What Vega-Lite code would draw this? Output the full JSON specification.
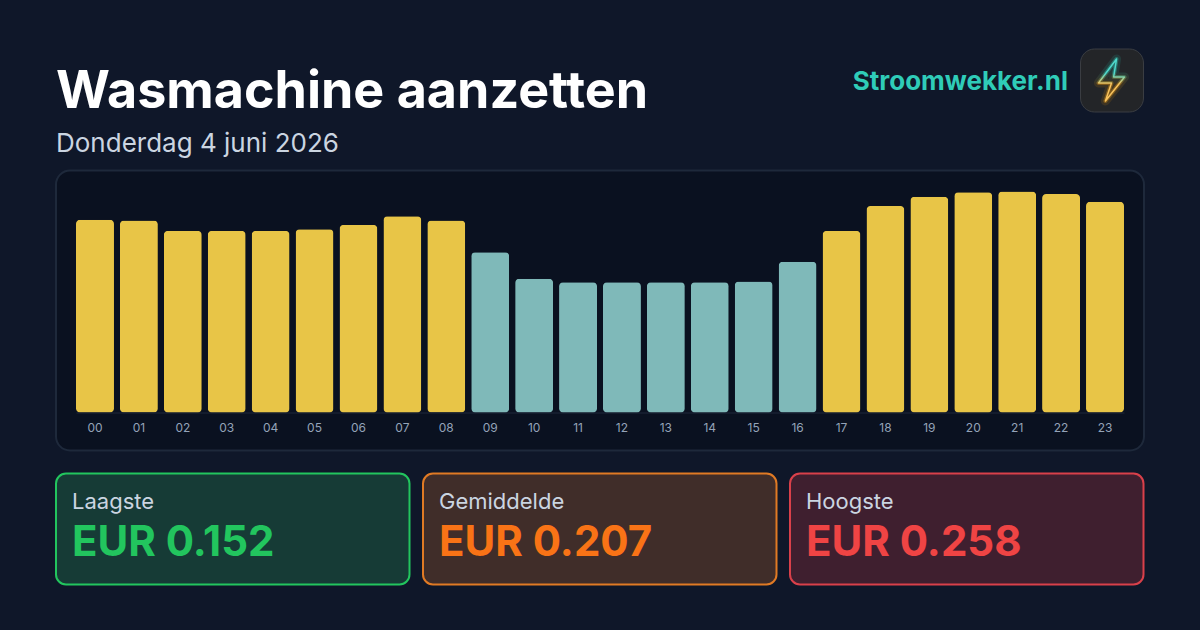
{
"$schema":"https://vega.github.io/schema/vega-lite/v6.json",
"background":"#0f1729",
"padding":{"left":55,"top":47.5,"right":54.5,"bottom":45},
"spacing":0,
"config":{"font":"Inter","view":{"stroke":null}},
"datasets":{
"kop":[{"titel":"Wasmachine aanzetten","datum":"Donderdag 4 juni 2026","merk":"Stroomwekker.nl"}],
"uren":[
{"uur":"00","prijs":0.225,"niveau":"duur"},{"uur":"01","prijs":0.224,"niveau":"duur"},{"uur":"02","prijs":0.212,"niveau":"duur"},{"uur":"03","prijs":0.212,"niveau":"duur"},{"uur":"04","prijs":0.212,"niveau":"duur"},{"uur":"05","prijs":0.214,"niveau":"duur"},{"uur":"06","prijs":0.219,"niveau":"duur"},{"uur":"07","prijs":0.229,"niveau":"duur"},{"uur":"08","prijs":0.224,"niveau":"duur"},{"uur":"09","prijs":0.187,"niveau":"goedkoop"},{"uur":"10","prijs":0.156,"niveau":"goedkoop"},{"uur":"11","prijs":0.152,"niveau":"goedkoop"},{"uur":"12","prijs":0.152,"niveau":"goedkoop"},{"uur":"13","prijs":0.152,"niveau":"goedkoop"},{"uur":"14","prijs":0.152,"niveau":"goedkoop"},{"uur":"15","prijs":0.153,"niveau":"goedkoop"},{"uur":"16","prijs":0.176,"niveau":"goedkoop"},{"uur":"17","prijs":0.212,"niveau":"duur"},{"uur":"18","prijs":0.241,"niveau":"duur"},{"uur":"19","prijs":0.252,"niveau":"duur"},{"uur":"20","prijs":0.257,"niveau":"duur"},{"uur":"21","prijs":0.258,"niveau":"duur"},{"uur":"22","prijs":0.255,"niveau":"duur"},{"uur":"23","prijs":0.246,"niveau":"duur"}]
},
"vconcat":[
{"hconcat":[
 {"width":1023,"height":121,"data":{"name":"kop"},"layer":[
  {"mark":{"type":"text","align":"left","baseline":"alphabetic","fontSize":52,"fontWeight":700,"color":"#ffffff","x":0,"y":59},"encoding":{"text":{"field":"titel"}}},
  {"mark":{"type":"text","align":"left","baseline":"alphabetic","fontSize":26,"fontWeight":400,"color":"#cbd5e1","x":0,"y":103},"encoding":{"text":{"field":"datum"}}},
  {"mark":{"type":"text","align":"right","baseline":"alphabetic","fontSize":26,"fontWeight":700,"color":"#2fccb8","x":1012,"y":41},"encoding":{"text":{"field":"merk"}}}
 ]},
 {"width":63,"height":63,"data":{"name":"kop"},"view":{"fill":"#232528","stroke":"#3a3d42","strokeWidth":1,"cornerRadius":14},"layer":[
  {"mark":{"type":"point","shape":"M0.24,-1L-0.62,0.14L0,0.14L-0.29,1L0.62,-0.14L0.1,-0.14Z","size":1764,"filled":false,"strokeJoin":"round","strokeWidth":9,"opacity":0.12,"stroke":{"gradient":"linear","x1":0,"y1":0,"x2":0,"y2":1,"stops":[{"offset":0.3,"color":"#2dd4bf"},{"offset":0.6,"color":"#f59e0b"}]}},"encoding":{}},
  {"mark":{"type":"point","shape":"M0.24,-1L-0.62,0.14L0,0.14L-0.29,1L0.62,-0.14L0.1,-0.14Z","size":1764,"filled":false,"strokeJoin":"round","strokeWidth":4,"opacity":0.35,"stroke":{"gradient":"linear","x1":0,"y1":0,"x2":0,"y2":1,"stops":[{"offset":0.3,"color":"#2dd4bf"},{"offset":0.6,"color":"#f59e0b"}]}},"encoding":{}},
  {"mark":{"type":"point","shape":"M0.24,-1L-0.62,0.14L0,0.14L-0.29,1L0.62,-0.14L0.1,-0.14Z","size":1764,"filled":false,"strokeJoin":"round","strokeWidth":1.5,"opacity":1,"stroke":{"gradient":"linear","x1":0,"y1":0,"x2":0,"y2":1,"stops":[{"offset":0.35,"color":"#4fd8cc"},{"offset":0.6,"color":"#f8c25c"}]}},"encoding":{}}
 ]}
],"spacing":0},
{"vconcat":[
{"width":1088,"height":280,"data":{"name":"uren"},"view":{"fill":"#0a1120","stroke":"#1e293b","strokeWidth":2,"cornerRadius":14},
 "mark":{"type":"bar","cornerRadius":4},
 "encoding":{
  "x":{"field":"uur","type":"ordinal","sort":null,"scale":{"range":[20,1068],"paddingInner":0.135,"paddingOuter":0},"axis":{"title":null,"labelAngle":0,"ticks":false,"offset":-38,"labelPadding":10,"labelFontSize":12,"labelColor":"#94a3b8","domainColor":"#1e293b","domainWidth":1,"grid":false}},
  "y":{"field":"prijs","type":"quantitative","scale":{"domain":[0,0.2825],"range":[242,0],"nice":false},"axis":null},
  "color":{"field":"niveau","type":"nominal","scale":{"domain":["duur","goedkoop"],"range":["#e8c547","#7fb9b9"]},"legend":null}
 }},
{"hconcat":[
 {"width":353.5,"height":111,"data":{"values":[{"kaart":"Laagste","bedrag":"EUR 0.152"}]},"view":{"fill":"#163b36","stroke":"#22c55e","strokeWidth":2,"cornerRadius":10},"layer":[
  {"mark":{"type":"text","align":"left","baseline":"alphabetic","fontSize":22,"color":"#cbd5e1","x":16,"y":35},"encoding":{"text":{"field":"kaart"}}},
  {"mark":{"type":"text","align":"left","baseline":"alphabetic","fontSize":42,"fontWeight":700,"color":"#22c55e","x":16,"y":82.5},"encoding":{"text":{"field":"bedrag"}}}
 ]},
 {"width":353.5,"height":111,"data":{"values":[{"kaart":"Gemiddelde","bedrag":"EUR 0.207"}]},"view":{"fill":"#402d29","stroke":"#e07a24","strokeWidth":2,"cornerRadius":10},"layer":[
  {"mark":{"type":"text","align":"left","baseline":"alphabetic","fontSize":22,"color":"#cbd5e1","x":16,"y":35},"encoding":{"text":{"field":"kaart"}}},
  {"mark":{"type":"text","align":"left","baseline":"alphabetic","fontSize":42,"fontWeight":700,"color":"#f97316","x":16,"y":82.5},"encoding":{"text":{"field":"bedrag"}}}
 ]},
 {"width":353.5,"height":111,"data":{"values":[{"kaart":"Hoogste","bedrag":"EUR 0.258"}]},"view":{"fill":"#3f1f2f","stroke":"#d9404a","strokeWidth":2,"cornerRadius":10},"layer":[
  {"mark":{"type":"text","align":"left","baseline":"alphabetic","fontSize":22,"color":"#cbd5e1","x":16,"y":35},"encoding":{"text":{"field":"kaart"}}},
  {"mark":{"type":"text","align":"left","baseline":"alphabetic","fontSize":42,"fontWeight":700,"color":"#ef4444","x":16,"y":82.5},"encoding":{"text":{"field":"bedrag"}}}
 ]}
],"spacing":11}
],"spacing":21}
]
}
